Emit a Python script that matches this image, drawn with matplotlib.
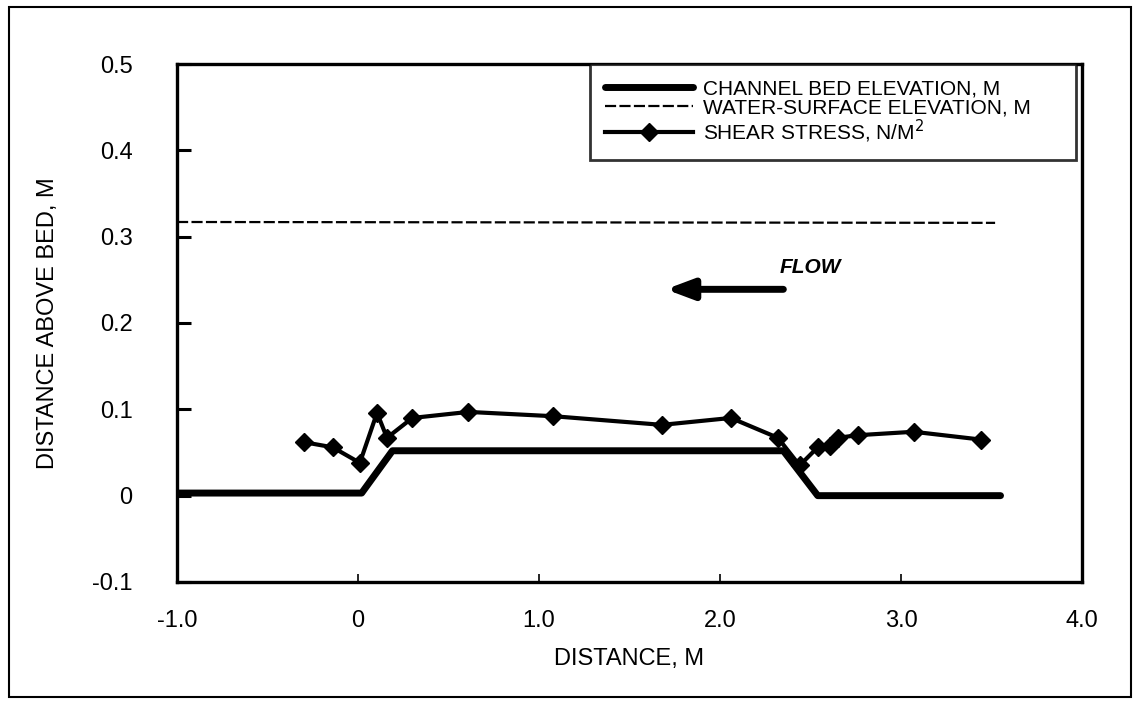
import matplotlib
matplotlib.use("Agg")
import matplotlib.pyplot as plt
from matplotlib.patches import Rectangle

plt.rcParams['font.family'] = ['Liberation Sans', 'DejaVu Sans']

# channel bed profile, m
bed_x = [-1.0, 0.02, 0.19, 2.35, 2.54, 3.55]
bed_y = [0.003, 0.003, 0.052, 0.052, 0.0, 0.0]

# water surface, m
water_x = [-1.0, 3.52]
water_y = [0.317, 0.316]

# shear stress, N/M^2 (plotted on same scale)
shear_x = [-0.30, -0.14, 0.01, 0.105, 0.16, 0.30, 0.61, 1.08, 1.68, 2.06,
           2.32, 2.44, 2.54, 2.61, 2.65, 2.76, 3.07, 3.44]
shear_y = [0.062, 0.056, 0.038, 0.096, 0.067, 0.090, 0.097, 0.092, 0.082, 0.090,
           0.067, 0.035, 0.056, 0.058, 0.067, 0.070, 0.074, 0.065]

xticks = [-1.0, 0, 1.0, 2.0, 3.0, 4.0]
xlabels = ['-1.0', '0', '1.0', '2.0', '3.0', '4.0']
yticks = [-0.1, 0, 0.1, 0.2, 0.3, 0.4, 0.5]
ylabels = ['-0.1', '0', '0.1', '0.2', '0.3', '0.4', '0.5']

fig = plt.figure(figsize=(11.4, 7.05), dpi=100)
ax = fig.add_axes([0.1553, 0.1745, 0.7938, 0.7347])

ax.plot(bed_x, bed_y, color='black', lw=5, solid_capstyle='round',
        label='CHANNEL BED ELEVATION, M')
ax.plot(water_x, water_y, color='black', lw=1.6, linestyle=(0, (5, 1.5)),
        label='WATER-SURFACE ELEVATION, M')
ax.plot(shear_x, shear_y, color='black', lw=3, marker='D', markersize=9,
        label='SHEAR STRESS, N/M$^2$')

# flow arrow
ax.annotate('', xy=(1.70, 0.239), xytext=(2.35, 0.239),
            arrowprops=dict(arrowstyle='-|>,head_length=1.6,head_width=0.6',
                            lw=5, color='black', shrinkA=0, shrinkB=0))
ax.text(2.33, 0.264, 'FLOW', fontsize=15, style='italic', fontweight='bold',
        va='center', ha='left')

ax.set_xlim(-1.0, 4.0)
ax.set_ylim(-0.1, 0.5)
ax.set_xticks(xticks)
ax.set_xticklabels(xlabels)
ax.set_yticks(yticks)
ax.set_yticklabels(ylabels)
ax.tick_params(axis='x', direction='in', length=6, width=1.2, pad=20, labelsize=17)
ax.tick_params(axis='y', direction='in', length=10, width=2.2, pad=32, labelsize=17)
for s in ax.spines.values():
    s.set_linewidth(2.4)

ax.set_xlabel('DISTANCE, M', fontsize=17, labelpad=12)
ax.set_ylabel('DISTANCE ABOVE BED, M', fontsize=17, labelpad=24)

leg = ax.legend(loc='upper right', bbox_to_anchor=(0.456, 0.8, 0.537, 0.2),
                mode='expand', fontsize=15, handlelength=4.2, frameon=True,
                fancybox=False, borderaxespad=0, labelspacing=0.0,
                handletextpad=0.5, borderpad=0.75)
leg.get_frame().set_edgecolor('black')
leg.get_frame().set_linewidth(2.0)

# outer frame
fig.patches.append(Rectangle((0.008, 0.012), 0.984, 0.978, transform=fig.transFigure,
                             fill=False, edgecolor='black', lw=1.5))

fig.savefig('out.png', dpi=100)
